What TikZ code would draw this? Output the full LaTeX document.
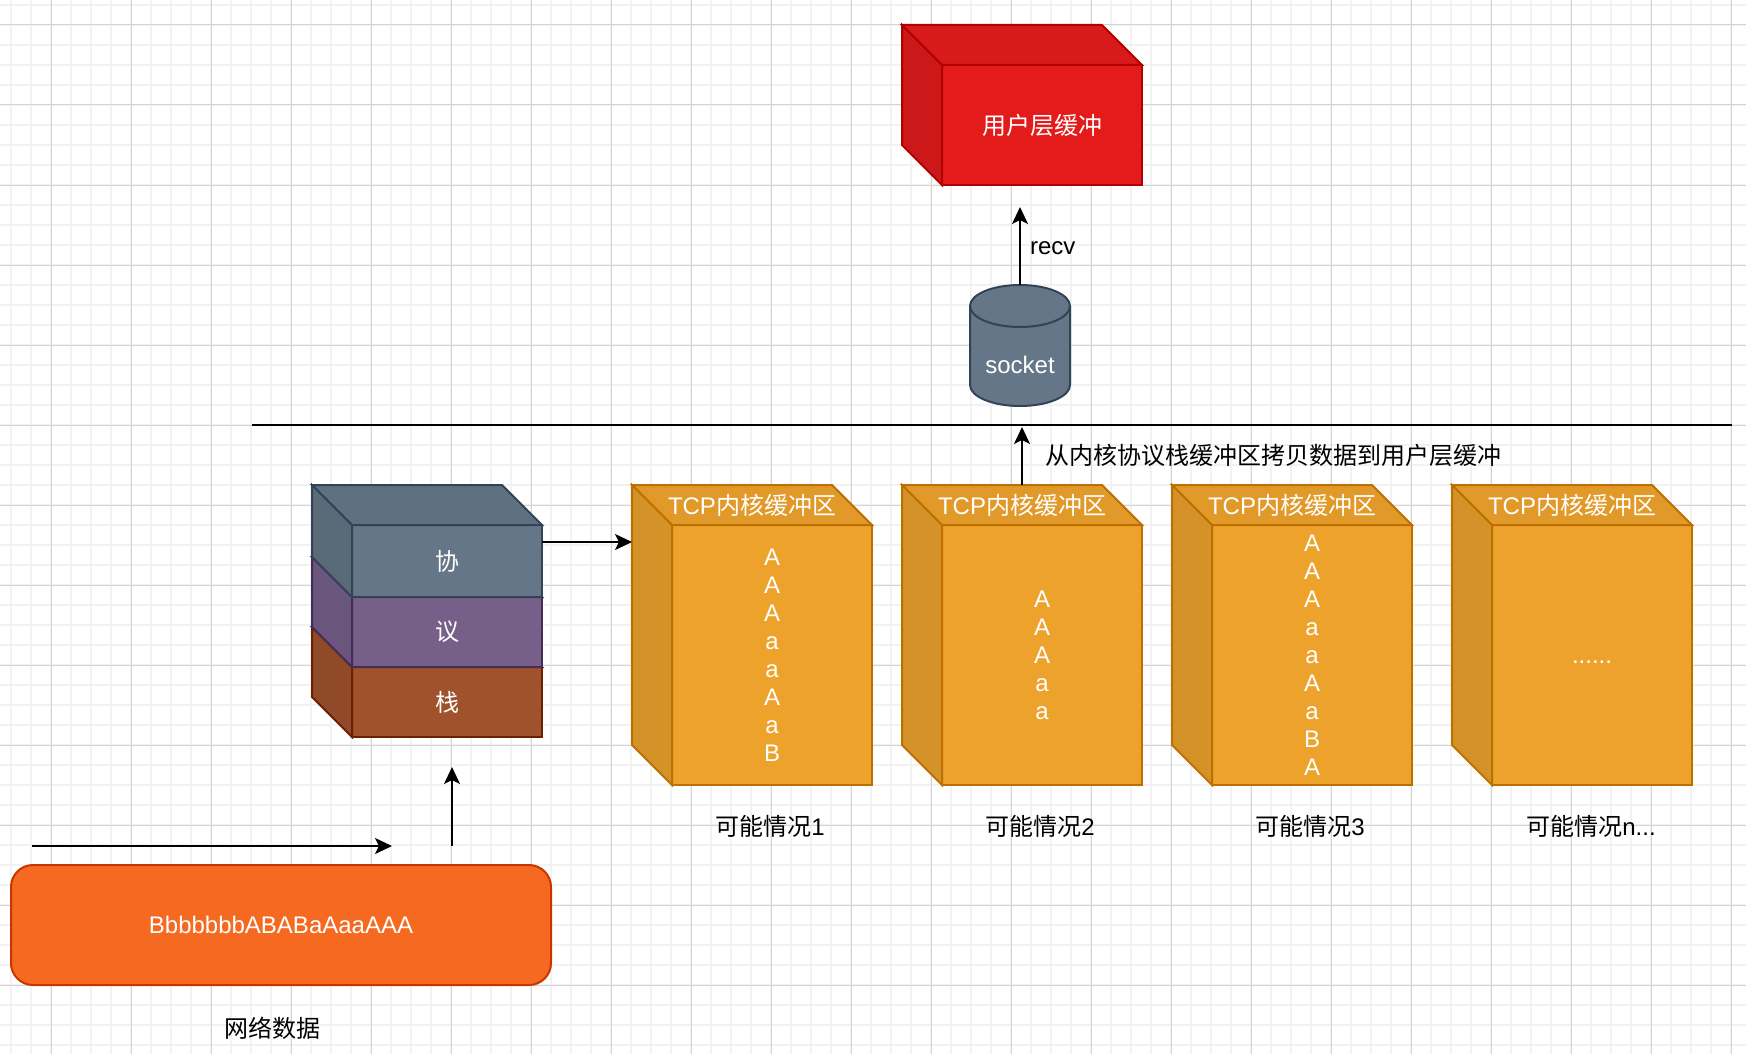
\documentclass[tikz,border=0pt]{standalone}
\usepackage{fontspec}
\setmainfont{Liberation Sans}
\newfontfamily\cjk{Noto Sans CJK SC}
\usetikzlibrary{arrows.meta}
\definecolor{gridmaj}{HTML}{D4D4D4}
\definecolor{gridmin}{HTML}{F2F2F2}
\definecolor{redf}{HTML}{E31B1B}
\definecolor{reds}{HTML}{B20000}
\definecolor{slatef}{HTML}{647687}
\definecolor{slates}{HTML}{314354}
\definecolor{purf}{HTML}{76608A}
\definecolor{purs}{HTML}{432D57}
\definecolor{sienf}{HTML}{A0522D}
\definecolor{siens}{HTML}{6D1F00}
\definecolor{ambf}{HTML}{EDA22C}
\definecolor{ambs}{HTML}{BD7000}
\definecolor{orgf}{HTML}{F56A20}
\definecolor{orgs}{HTML}{C73500}
\newcommand\cubefaces[3]{%
  \filldraw[fill=#2!95!black, draw=#3, line width=2pt, line join=miter]
    (#1.north west) -- ++(-40,-40) -- ([shift={(-40,-40)}]#1.north east) -- (#1.north east) -- cycle;
  \filldraw[fill=#2!90!black, draw=#3, line width=2pt, line join=miter]
    (#1.north west) -- ++(-40,-40) -- ([shift={(-40,-40)}]#1.south west) -- (#1.south west) -- cycle;
}
\tikzset{
  every node/.style={font=\fontsize{24}{28}\selectfont, inner sep=0pt, outer sep=0pt},
  face/.style={draw, line width=2pt, text=white, align=center},
  tcpfront/.style={face, fill=ambf, draw=ambs, minimum width=200pt, minimum height=260pt},
  stackfront/.style={face, minimum width=190pt},
  whitetext/.style={text=white},
  caption/.style={text=black},
  arr/.style={line width=2pt, -{Stealth[length=17pt,width=16pt,inset=4pt]}},
  plainline/.style={line width=2pt},
}
\begin{document}
\begin{tikzpicture}[x=1pt,y=-1pt]
\useasboundingbox (0,0) rectangle (1746,1054);
\fill[white] (0,0) rectangle (1746,1054);
% grid
\foreach \x in {11,31,...,1746} \draw[gridmin, line width=1.5pt] (\x,0) -- (\x,1054);
\foreach \y in {5,25,...,1054} \draw[gridmin, line width=1.5pt] (0,\y) -- (1746,\y);
\foreach \x in {51,131,...,1746} \draw[gridmaj, line width=1pt] (\x,0) -- (\x,1054);
\foreach \y in {25,105,...,1054} \draw[gridmaj, line width=1pt] (0,\y) -- (1746,\y);

% user buffer cube
\node[face, fill=redf, draw=reds, minimum width=200pt, minimum height=120pt] (user) at (1042,125) {{\cjk 用户层缓冲}};
\cubefaces{user}{redf}{reds}

% socket cylinder
\node[minimum width=100pt, minimum height=121pt] (sock) at (1020,345.5) {};
\filldraw[fill=slatef, draw=slates, line width=2pt]
  (970,306) -- (970,385) arc[start angle=180, end angle=360, x radius=50pt, y radius=21pt]
  -- (1070,306) arc[start angle=0, end angle=180, x radius=50pt, y radius=21pt] -- cycle;
\draw[slates, line width=2pt] (970,306) arc[start angle=180, end angle=360, x radius=50pt, y radius=21pt];
\node[whitetext] (sockl) at (1020,365) {socket};

% recv arrow
\coordinate (recvend) at (1020,207);
\draw[arr] (sock.north) -- (recvend);
\node[caption, anchor=west] (recvl) at (1030,248) {recv};

% divider line
\coordinate (divl) at (252,425);
\coordinate (divr) at (1732,425);
\draw[plainline] (divl) -- (divr);

% protocol stack (bottom to top)
\node[stackfront, fill=sienf, draw=siens, minimum height=70pt] (p3) at (447,702) {{\cjk 栈}};
\cubefaces{p3}{sienf}{siens}
\node[stackfront, fill=purf, draw=purs, minimum height=70pt] (p2) at (447,632) {{\cjk 议}};
\cubefaces{p2}{purf}{purs}
\node[stackfront, fill=slatef, draw=slates, minimum height=72pt] (p1) at (447,561) {{\cjk 协}};
\cubefaces{p1}{slatef}{slates}

% TCP buffers
\node[tcpfront] (t1) at (772,655) {A\\A\\A\\a\\a\\A\\a\\B};
\cubefaces{t1}{ambf}{ambs}
\node[tcpfront] (t2) at (1042,655) {A\\A\\A\\a\\a};
\cubefaces{t2}{ambf}{ambs}
\node[tcpfront] (t3) at (1312,655) {A\\A\\A\\a\\a\\A\\a\\B\\A};
\cubefaces{t3}{ambf}{ambs}
\node[tcpfront] (t4) at (1592,655) {\vphantom{A}......};
\cubefaces{t4}{ambf}{ambs}
\foreach \t in {t1,t2,t3,t4}
  \node[whitetext] (\t title) at ([shift={(-20,-20)}]\t.north) {TCP{\cjk 内核缓冲区}};

% captions
\node[caption] (c1) at (770,826) {{\cjk 可能情况}1};
\node[caption] (c2) at (1040,826) {{\cjk 可能情况}2};
\node[caption] (c3) at (1310,826) {{\cjk 可能情况}3};
\node[caption] (c4) at (1591,826) {{\cjk 可能情况}n...};

% stack -> first buffer
\coordinate (t1w) at ([xshift=-40pt]t1.west);
\coordinate (s1) at ([yshift=19pt]p1.east);
\draw[arr] (s1) -- (s1 -| t1w);

% buffer 2 -> user space
\coordinate (t2top) at ([shift={(-20,-40)}]t2.north);
\coordinate (cpyend) at (1022,427);
\draw[arr] (t2top) -- (cpyend);
\node[caption, anchor=west] (cpyl) at (1045,455) {{\cjk 从内核协议栈缓冲区拷贝数据到用户层缓冲}};

% network data
\node[face, fill=orgf, draw=orgs, rounded corners=22pt, minimum width=540pt, minimum height=120pt] (net) at (281,925) {BbbbbbbABABaAaaAAA};
\node[caption] (netl) at (272,1028) {{\cjk 网络数据}};
\coordinate (h0) at (32,846);
\coordinate (h1) at (392,846);
\draw[arr] (h0) -- (h1);
\coordinate (v0) at (452,846);
\coordinate (v1) at (452,767);
\draw[arr] (v0) -- (v1);
\end{tikzpicture}
\end{document}
